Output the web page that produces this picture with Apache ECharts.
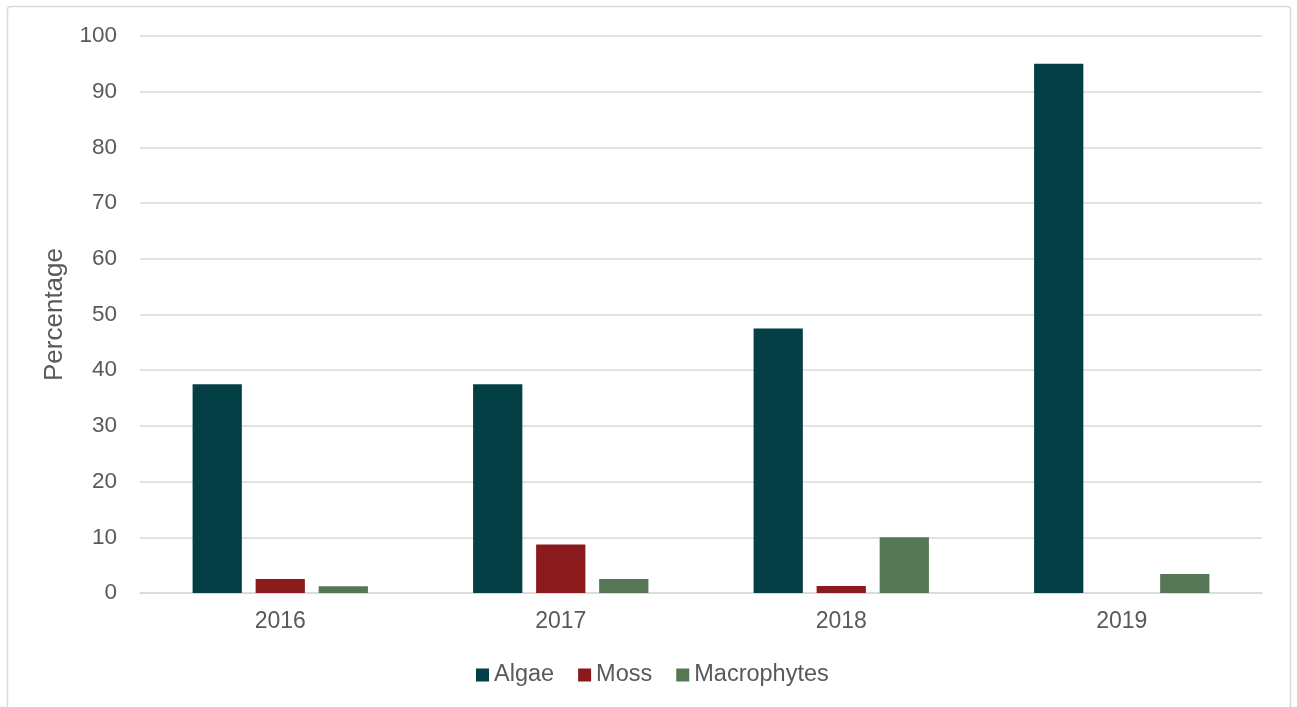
<!DOCTYPE html>
<html><head><meta charset="utf-8">
<script src="https://cdn.jsdelivr.net/npm/echarts@6/dist/echarts.min.js"></script>
<style>html,body{margin:0;padding:0;background:#fff}#c{width:1297px;height:707px}</style>
</head><body><div id="c"></div>
<script>
const categories = ['2016', '2017', '2018', '2019'];
const algae = [37.5, 37.5, 47.5, 95];
const moss = [2.5, 8.7, 1.25, 0];
const macrophytes = [1.2, 2.5, 10, 3.4];
const yTicks = [0, 10, 20, 30, 40, 50, 60, 70, 80, 90, 100];

const chart = echarts.init(document.getElementById('c'), null, {renderer: 'canvas'});
const font = 'Liberation Sans, Arial, sans-serif';
chart.setOption({
  animation: false,
  graphic: [{type: 'rect', shape: {x: 7.5, y: 6.5, width: 1283, height: 720, r: 3}, style: {fill: 'none', stroke: '#d9d9d9', lineWidth: 1.5}, silent: true, z: -1}],
  grid: {left: 140, right: 35, top: 36, bottom: 114},
  legend: {
    top: 658, left: 471, itemWidth: 13, itemHeight: 13, itemGap: 24,
    icon: 'rect',
    textStyle: {fontFamily: font, fontSize: 23.5, color: '#595959'},
    data: ['Algae', 'Moss', 'Macrophytes']
  },
  xAxis: {
    type: 'category', data: categories,
    axisLine: {lineStyle: {color: '#d9d9d9', width: 1.5}},
    axisTick: {show: false},
    axisLabel: {fontFamily: font, fontSize: 23, color: '#595959', margin: 17}
  },
  yAxis: {
    type: 'value', min: yTicks[0], max: yTicks[yTicks.length - 1], interval: 10,
    name: 'Percentage', nameLocation: 'middle', nameGap: 72, nameRotate: 90,
    nameTextStyle: {fontFamily: font, fontSize: 26, color: '#595959'},
    axisLine: {show: false}, axisTick: {show: false},
    axisLabel: {fontFamily: font, fontSize: 22.5, color: '#595959', margin: 23},
    splitLine: {lineStyle: {color: '#d9d9d9', width: 1.5}}
  },
  series: [
    {name: 'Algae', type: 'bar', data: algae, itemStyle: {color: '#033f45'}, barGap: '28%', barCategoryGap: '37.5%'},
    {name: 'Moss', type: 'bar', data: moss, itemStyle: {color: '#8b1a1d'}},
    {name: 'Macrophytes', type: 'bar', data: macrophytes, itemStyle: {color: '#557755'}}
  ]
});
</script></body></html>
